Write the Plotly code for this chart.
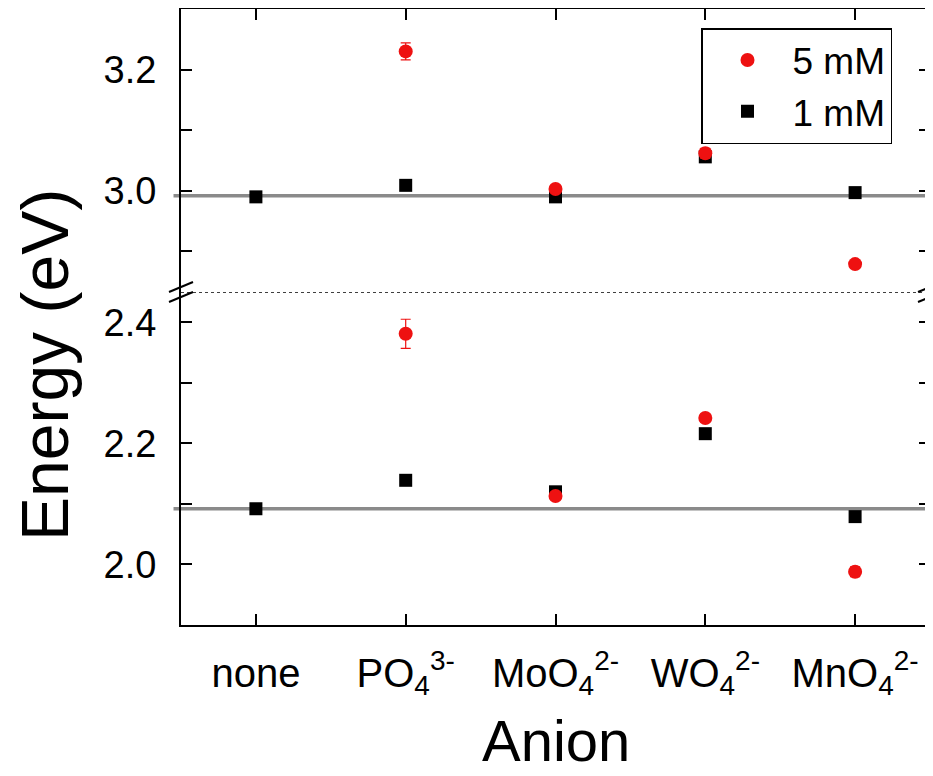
import plotly.graph_objects as go

# ---------------- data ----------------
categories = ["none", "PO4", "MoO4", "WO4", "MnO4"]
tick_labels = ["none", "PO<sub>4</sub><sup>3-</sup>", "MoO<sub>4</sub><sup>2-</sup>",
               "WO<sub>4</sub><sup>2-</sup>", "MnO<sub>4</sub><sup>2-</sup>"]

# upper panel (around 3.0 eV)
upper_5mM = [None, 3.230, 3.003, 3.062, 2.879]
upper_5mM_err = [0, 0.014, 0.005, 0.008, 0.005]
upper_1mM = [2.990, 3.009, 2.990, 3.056, 2.997]

# lower panel (around 2.1 eV)
lower_5mM = [None, 2.381, 2.113, 2.242, 1.988]
lower_5mM_err = [0, 0.024, 0.006, 0.006, 0.008]
lower_1mM = [2.092, 2.139, 2.120, 2.216, 2.079]

# reference levels (grey lines)
reference_lower = 2.092
reference_upper = 2.992

lower_range = [1.90, 2.45]
upper_range = [2.833, 3.30]
lower_ticks = [2.0, 2.1, 2.2, 2.3, 2.4]
lower_ticktext = ["2.0", " ", "2.2", " ", "2.4"]
upper_ticks = [2.9, 3.0, 3.1, 3.2]
upper_ticktext = [" ", "3.0", " ", "3.2"]

# ---------------- figure ----------------
FONT = "Liberation Sans, Arial, sans-serif"
OFF = 8                      # page body margin
W, H = 933 - OFF, 776 - OFF
PL, PR, PT, PB = 181, 930, 9, 625   # plot box in page pixels
ML, MR, MT, MB = PL - OFF, 933 - PR, PT - OFF, 776 - PB
pw = PR - PL
ph = PB - PT
split = (PB - 292) / ph


def px_x(px):
    return (px - PL) / pw


def px_y(py):
    return (PB - py) / ph


red = "#ee1111"
fig = go.Figure()

fig.add_trace(go.Scatter(x=categories, y=lower_1mM, mode="markers", name="1 mM",
                         legendgroup="1", showlegend=False,
                         marker=dict(symbol="square", size=13, color="black"),
                         xaxis="x", yaxis="y"))
fig.add_trace(go.Scatter(x=categories, y=upper_1mM, mode="markers", name="1 mM",
                         legendgroup="1", legendrank=2,
                         marker=dict(symbol="square", size=13, color="black"),
                         xaxis="x2", yaxis="y2"))
fig.add_trace(go.Scatter(x=categories, y=lower_5mM, mode="markers", name="5 mM",
                         legendgroup="5", showlegend=False,
                         marker=dict(symbol="circle", size=14, color=red),
                         error_y=dict(type="data", array=lower_5mM_err, color=red,
                                      thickness=1.2, width=5),
                         xaxis="x", yaxis="y"))
fig.add_trace(go.Scatter(x=categories, y=upper_5mM, mode="markers", name="5 mM",
                         legendgroup="5", legendrank=1,
                         marker=dict(symbol="circle", size=14, color=red),
                         error_y=dict(type="data", array=upper_5mM_err, color=red,
                                      thickness=1.2, width=5),
                         xaxis="x2", yaxis="y2"))

axis_common = dict(showline=True, linecolor="black", linewidth=2,
                   ticks="inside", ticklen=11, tickwidth=1.5, tickcolor="black",
                   showgrid=False, zeroline=False)
xfont = dict(family=FONT, size=40, color="black")
yfont = dict(family=FONT, size=38, color="black")

fig.update_layout(
    width=W, height=H,
    margin=dict(l=ML, r=MR, t=MT, b=MB, autoexpand=False),
    paper_bgcolor="white", plot_bgcolor="white",
    font=dict(family=FONT, color="black"),
    xaxis=dict(**axis_common, type="category", range=[-0.5, 4.5],
               tickvals=categories, ticktext=tick_labels, tickfont=xfont,
               anchor="y", ticklabelstandoff=12),
    xaxis2=dict(**axis_common, type="category", range=[-0.5, 4.5],
                tickvals=categories, showticklabels=False,
                anchor="y2", side="top", matches="x"),
    yaxis=dict(**axis_common, range=lower_range, domain=[0, split],
               tickvals=lower_ticks, ticktext=lower_ticktext, tickfont=yfont,
               mirror="ticks", ticklabelstandoff=15),
    yaxis2=dict(**axis_common, range=upper_range, domain=[split, 1],
                tickvals=upper_ticks, ticktext=upper_ticktext, tickfont=yfont,
                mirror="ticks", ticklabelstandoff=15, anchor="x2"),
    legend=dict(x=px_x(701), y=px_y(28),
                xanchor="left", yanchor="top",
                bgcolor="white", bordercolor="black", borderwidth=1.5,
                font=dict(family=FONT, size=37, color="black"),
                itemwidth=80, tracegroupgap=0),
)

# grey reference lines
for yref, yv in (("y", reference_lower), ("y2", reference_upper)):
    fig.add_shape(type="line", xref="paper", yref=yref, x0=-0.01, x1=1, y0=yv, y1=yv,
                  line=dict(color="#8a8a8a", width=3.5), layer="below")

# axis break: dotted line and slashes
fig.add_shape(type="line", xref="paper", yref="y", x0=0, x1=1,
              y0=lower_range[1], y1=lower_range[1],
              line=dict(color="black", width=1.5, dash="dot"))
dx = 12 / pw
dy = 5 / ph
off = 5 / ph
for xc in (0, 1):
    for o in (-off, off):
        fig.add_shape(type="line", xref="paper", yref="paper",
                      x0=xc - dx, x1=xc + dx, y0=split + o - dy, y1=split + o + dy,
                      line=dict(color="black", width=2))

# axis titles
fig.add_annotation(text="Energy (eV)", xref="paper", yref="paper",
                   x=px_x(45), y=px_y(365), textangle=-90,
                   showarrow=False, xanchor="center", yanchor="middle",
                   font=dict(family=FONT, size=66, color="black"))
fig.add_annotation(text="Anion", xref="paper", yref="paper",
                   x=0.5, y=px_y(741),
                   showarrow=False, xanchor="center", yanchor="middle",
                   font=dict(family=FONT, size=58, color="black"))

fig.write_html("out.html")
